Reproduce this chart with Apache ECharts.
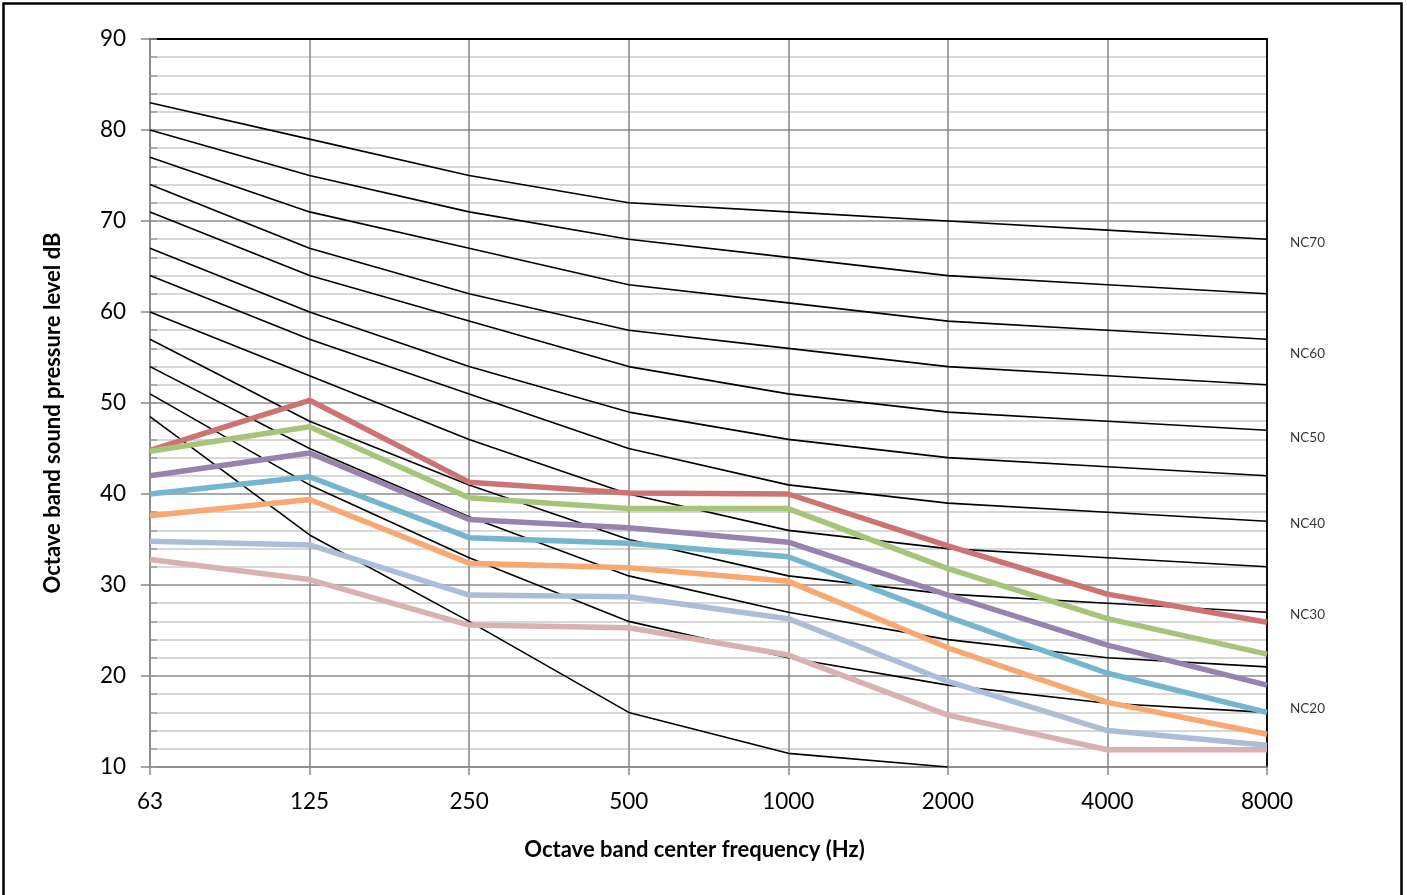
<!DOCTYPE html>
<html>
<head>
<meta charset="utf-8">
<script src="https://cdn.jsdelivr.net/npm/echarts@6/dist/echarts.min.js"></script>
<style>
  html, body { margin: 0; padding: 0; background: #fff; }
  #chart { width: 1407px; height: 895px; }
</style>
</head>
<body>
<div id="chart"></div>
<script>
// Octave band centre frequencies (Hz)
var frequencies = ['63', '125', '250', '500', '1000', '2000', '4000', '8000'];

// NC reference curves (dB)
var nc70 = [83, 79, 75, 72, 71, 70, 69, 68];
var nc65 = [80, 75, 71, 68, 66, 64, 63, 62];
var nc60 = [77, 71, 67, 63, 61, 59, 58, 57];
var nc55 = [74, 67, 62, 58, 56, 54, 53, 52];
var nc50 = [71, 64, 59, 54, 51, 49, 48, 47];
var nc45 = [67, 60, 54, 49, 46, 44, 43, 42];
var nc40 = [64, 57, 51, 45, 41, 39, 38, 37];
var nc35 = [60, 53, 46, 40, 36, 34, 33, 32];
var nc30 = [57, 48, 41, 35, 31, 29, 28, 27];
var nc25 = [54, 45, 37.5, 31, 27, 24, 22, 21];
var nc20 = [51, 41, 33, 26, 22, 19, 17, 16];
var nc15 = [48.5, 35.5, 26, 16, 11.5, 10, null, null];

// Measured spectra (dB)
var spectrumRed    = [44.8, 50.3, 41.3, 40.1, 40.0, 34.3, 29.0, 25.9];
var spectrumGreen  = [44.7, 47.4, 39.6, 38.4, 38.4, 31.8, 26.3, 22.4];
var spectrumPurple = [42.0, 44.5, 37.2, 36.3, 34.7, 28.9, 23.4, 19.0];
var spectrumCyan   = [40.0, 41.9, 35.2, 34.6, 33.1, 26.5, 20.3, 16.0];
var spectrumOrange = [37.6, 39.4, 32.4, 31.9, 30.4, 23.1, 17.1, 13.6];
var spectrumBlue   = [34.8, 34.4, 28.9, 28.7, 26.3, 19.4, 14.0, 12.4];
var spectrumPink   = [32.8, 30.6, 25.6, 25.3, 22.3, 15.7, 11.9, 11.9];

// Curve names at the right edge, with the level they sit beside
var curveLabels = ['NC70', 'NC60', 'NC50', 'NC40', 'NC30', 'NC20'];
var curveLabelLevels = [67.6, 55.4, 46.2, 36.7, 26.7, 16.4];

var FONT = 'Lato, "Open Sans", sans-serif';

var ncCurves = [nc70, nc65, nc60, nc55, nc50, nc45, nc40, nc35, nc30, nc25, nc20, nc15];
var ncNames = ['NC-70', 'NC-65', 'NC-60', 'NC-55', 'NC-50', 'NC-45', 'NC-40', 'NC-35', 'NC-30', 'NC-25', 'NC-20', 'NC-15'];

var spectra = [
  { name: 'A', data: spectrumRed,    color: '#CD7472' },
  { name: 'B', data: spectrumGreen,  color: '#A7C47B' },
  { name: 'C', data: spectrumPurple, color: '#9883B0' },
  { name: 'D', data: spectrumCyan,   color: '#74B6CD' },
  { name: 'E', data: spectrumOrange, color: '#F8A870' },
  { name: 'F', data: spectrumBlue,   color: '#ACBDD9' },
  { name: 'G', data: spectrumPink,   color: '#DAB1B1' }
];

var series = [];
ncCurves.forEach(function (d, i) {
  series.push({
    name: ncNames[i], type: 'line', data: d, symbol: 'none', silent: true,
    lineStyle: { color: '#000', width: 1.6 }, z: 3
  });
});
spectra.forEach(function (s) {
  series.push({
    name: s.name, type: 'line', data: s.data, symbol: 'none', silent: true,
    lineStyle: { color: s.color, width: 5.5, cap: 'butt', join: 'round' }, z: 4
  });
});
series.push({
  type: 'scatter', symbolSize: 0, silent: true, z: 5,
  data: curveLabels.map(function (t, i) { return { value: ['8000', curveLabelLevels[i]], name: t }; }),
  label: {
    show: true, position: 'right', distance: 23,
    formatter: function (p) { return p.name; },
    fontFamily: FONT, fontSize: 13.5, color: '#000'
  }
});

var chart = echarts.init(document.getElementById('chart'), null, { renderer: 'canvas' });
chart.setOption({
  backgroundColor: '#fff',
  animation: false,
  grid: { left: 150, right: 140, top: 39, bottom: 128, containLabel: false },
  graphic: [{
    type: 'rect', silent: true,
    shape: { x: 3.5, y: 3.5, width: 1398, height: 1000 },
    style: { fill: 'none', stroke: '#000', lineWidth: 2.5 }
  }],
  xAxis: [{
    type: 'category', data: frequencies, boundaryGap: false,
    name: 'Octave band center frequency (Hz)', nameLocation: 'middle', nameGap: 72,
    nameTextStyle: { fontFamily: FONT, fontWeight: 'bold', fontSize: 22, color: '#000', padding: [0, 28, 0, 0] },
    axisLine: { lineStyle: { color: '#868686', width: 1.5 } },
    axisTick: { show: true, length: 8, lineStyle: { color: '#868686', width: 1.5 } },
    axisLabel: { fontFamily: FONT, fontSize: 22.5, color: '#000', margin: 23 },
    splitLine: { show: true, lineStyle: { color: '#868686', width: 1.5 } }
  }, {
    type: 'category', data: frequencies, boundaryGap: false, position: 'top',
    axisLine: { lineStyle: { color: '#000', width: 1.8 } },
    axisTick: { show: false }, axisLabel: { show: false }, splitLine: { show: false }
  }],
  yAxis: [{
    type: 'value', min: 10, max: 90, interval: 10,
    name: 'Octave band sound pressure level dB', nameLocation: 'middle', nameGap: 86,
    nameTextStyle: { fontFamily: FONT, fontWeight: 'bold', fontSize: 22, color: '#000', padding: [0, 20, 0, 0] },
    axisLine: { show: true, lineStyle: { color: '#868686', width: 1.5 } },
    axisTick: { show: true, length: 9, lineStyle: { color: '#868686', width: 1.5 } },
    axisLabel: { fontFamily: FONT, fontSize: 22.5, color: '#000', margin: 24 },
    splitLine: { show: true, lineStyle: { color: '#8c8c8c', width: 1.5 } },
    minorTick: { show: false },
    minorSplitLine: { show: true, lineStyle: { color: '#cbcbcb', width: 1.5 } }
  }, {
    type: 'value', min: 10, max: 90, interval: 10, position: 'right',
    axisLine: { show: true, lineStyle: { color: '#000', width: 1.8 } },
    axisTick: { show: false }, axisLabel: { show: false }, splitLine: { show: false }
  }, {
    type: 'value', min: 10, max: 90, interval: 2, position: 'left',
    axisLine: { show: false },
    axisTick: { show: true, inside: true, length: 7, lineStyle: { color: '#9a9a9a', width: 1.5 } },
    axisLabel: { show: false }, splitLine: { show: false }
  }],
  series: series
});
</script>
</body>
</html>
